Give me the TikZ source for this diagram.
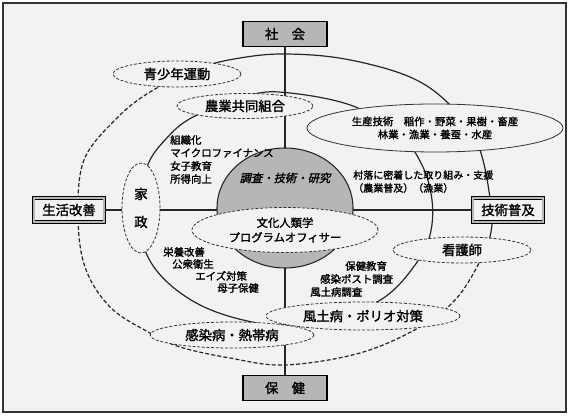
\documentclass[tikz,border=0pt]{standalone}
\usepackage{fontspec}
\newfontfamily\cjk[FakeBold=1.6]{Noto Sans CJK JP}
\newfontfamily\cjksl[FakeSlant=0.22,FakeBold=1.6]{Noto Sans CJK JP}
\usetikzlibrary{shapes.geometric}
\definecolor{bgc}{RGB}{242,242,242}
\definecolor{halftone}{RGB}{182,182,182}
\begin{document}
\begin{tikzpicture}[x=0.75pt,y=-0.75pt,
  every node/.style={inner sep=0pt, text=black},
  ring/.style={line width=0.9pt, draw=black!85},
  ringdash/.style={ring, dash pattern=on 3pt off 1.6pt},
  axis/.style={line width=0.8pt, draw=black!85},
  tag/.style={ellipse, draw=black!80, fill=bgc, line width=0.6pt,
    dash pattern=on 2.2pt off 1.3pt, align=center,
    font=\cjk\fontsize{10}{12}\selectfont},
  solidtag/.style={tag, solid},
  small/.style={anchor=west, font=\cjk\fontsize{7.8}{9.5}\selectfont},
  topbox/.style={rectangle, draw=black, line width=0.8pt, fill=halftone,
    minimum width=63pt, minimum height=18.75pt,
    font=\cjk\fontsize{10}{12}\selectfont},
  sidebox/.style={rectangle, draw=black, line width=0.5pt, double=halftone,
    double distance=1.5pt, fill=bgc, minimum width=53pt, minimum height=18pt,
    font=\cjk\fontsize{10}{12}\selectfont}]
\useasboundingbox (0,0) rectangle (570,416);
\fill[white] (0,0) rectangle (570,416);
\fill[bgc] (3,3) rectangle (566,412);
\draw[line width=1.1pt, black!80] (3,3) rectangle (566,412);

% inner ring
\draw[ring] plot[smooth cycle, tension=0.6] coordinates {
 (250,95) (290,93) (353,106) (400,135) (422,165) (432,200) (430,235)
 (415,265) (385,297) (340,317) (285,325) (243,320) (200,305) (165,280)
 (145,250) (140,210) (147,167) (165,140) (193,117)};
% outer ring, solid part
\begin{scope}
\clip (178,72) -- (178,0) -- (570,0) -- (570,250) -- (483,250) -- cycle;
\draw[ring] plot[smooth cycle, tension=0.6] coordinates {
 (285,54) (345,59) (410,77) (450,105) (478,145) (490,198) (491,232)
 (478,265) (455,300) (420,327) (360,353) (285,365) (230,358) (180,347)
 (150,333) (110,307) (85,267) (78,215) (84,160) (115,120) (150,92)
 (200,68) (240,58)};
\end{scope}
% outer ring, dashed part
\begin{scope}
\clip (178,72) -- (178,0) -- (0,0) -- (0,416) -- (570,416) -- (570,250) -- (483,250) -- cycle;
\draw[ringdash] plot[smooth cycle, tension=0.6] coordinates {
 (285,54) (345,59) (410,77) (450,105) (478,145) (490,198) (491,232)
 (478,265) (455,300) (420,327) (360,353) (285,365) (230,358) (180,347)
 (150,333) (110,307) (85,267) (78,215) (84,160) (115,120) (150,92)
 (200,68) (240,58)};
\end{scope}

% boxes
\node[topbox] (top) at (285,34) {社　会};
\node[topbox] (bot) at (285,388) {保　健};
\node[sidebox] (lft) at (69,210) {生活改善};
\node[sidebox] (rgt) at (508,210) {技術普及};

% axes
\draw[axis] (top.south) -- (bot.north);
\draw[axis] (lft.east) -- (rgt.west);

% core
\node[ellipse, draw=black!85, line width=0.8pt, fill=halftone,
  minimum width=102pt, minimum height=90pt] (core) at (285,208) {};
\node[font=\cjksl\fontsize{8.5}{10}\selectfont] (coretxt) at (285,178) {調査・技術・研究};
\node[tag, minimum width=139.5pt, minimum height=33.75pt,
  font=\cjk\fontsize{8.5}{11}\selectfont] (anth) at (285,230)
  {文化人類学\\プログラムオフィサー};

% tags
\node[tag, minimum width=96pt, minimum height=19.5pt] (youth) at (177,74) {青少年運動};
\node[tag, minimum width=102pt, minimum height=18.75pt] (coop) at (245,106) {農業共同組合};
\node[solidtag, minimum width=192pt, minimum height=36pt,
  font=\cjk\fontsize{7.8}{9.75}\selectfont] (prod) at (435,128)
  {生産技術　稲作・野菜・果樹・畜産\\林業・漁業・養蚕・水産};
\node[tag, minimum width=28.5pt, minimum height=67.5pt,
  font=\cjk\fontsize{10}{21}\selectfont] (home) at (141,208) {家\\政};
\node[tag, minimum width=103.5pt, minimum height=19.5pt] (nurse) at (462,250) {看護師};
\node[tag, minimum width=123pt, minimum height=19.5pt] (trop) at (232,335) {感染病・熱帯病};
\node[tag, minimum width=145.5pt, minimum height=21pt] (polio) at (363,316) {風土病・ポリオ対策};

% text blocks
\node[small] (t1) at (170,140) {組織化};
\node[small] (t2) at (170,153) {マイクロファイナンス};
\node[small] (t3) at (170,166) {女子教育};
\node[small] (t4) at (170,179) {所得向上};

\node[small] (u1) at (163,252) {栄養改善};
\node[small] (u2) at (172,264) {公衆衛生};
\node[small] (u3) at (195,276) {エイズ対策};
\node[small] (u4) at (217,288) {母子保健};

\node[small] (v1) at (345,266) {保健教育};
\node[small] (v2) at (320,279) {感染ポスト調査};
\node[small] (v3) at (310,292) {風土病調査};

\node[small, font=\cjk\fontsize{7.5}{9}\selectfont] (w1) at (353,175) {村落に密着した取り組み・支援};
\node[small, font=\cjk\fontsize{7.5}{9}\selectfont] (w2) at (353,188) {（農業普及）（漁業）};
\end{tikzpicture}
\end{document}
